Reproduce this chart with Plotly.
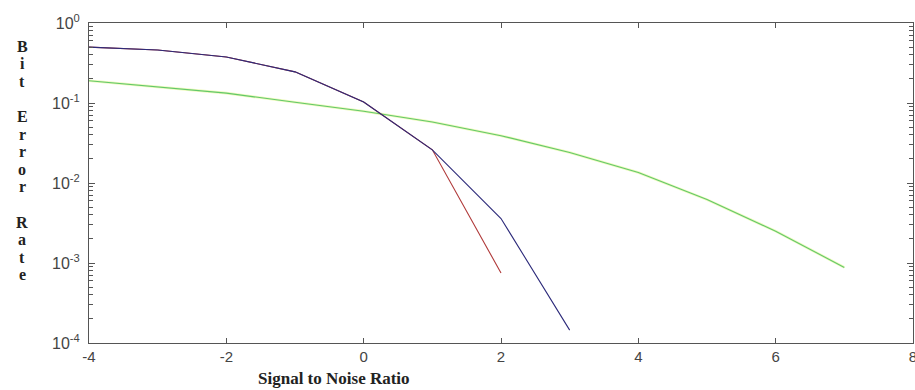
import numpy as np
import plotly.graph_objects as go

# Data
snr_blue = [-4, -3, -2, -1, 0, 1, 2, 3]
ber_blue = [0.50, 0.46, 0.376, 0.245, 0.103, 0.026, 0.0036, 0.000145]

snr_red = [-4, -3, -2, -1, 0, 1, 2]
ber_red = [0.50, 0.46, 0.376, 0.245, 0.103, 0.026, 0.00075]

snr_green = [-4, -3, -2, -1, 0, 1, 2, 3, 4, 5, 6, 7]
ber_green = [0.19, 0.16, 0.133, 0.102, 0.079, 0.058, 0.039, 0.024, 0.0135, 0.0062, 0.0025, 0.00088]

x_ticks = [-4, -2, 0, 2, 4, 6, 8]
x_tick_text = ["-4", "-2", "0", "2", "4", "6", "8"]
y_tick_vals = [1, 0.1, 0.01, 0.001, 0.0001]
y_tick_text = ["10<sup>0</sup>", "10<sup>-1</sup>", "10<sup>-2</sup>", "10<sup>-3</sup>", "10<sup>-4</sup>"]

y_title = "Bit Error Rate"
x_title = "Signal to Noise Ratio"

minor_vals = [m * 10.0 ** e for e in range(-4, 0) for m in range(2, 10)]

W, H = 915, 390
L, R, T, B = 89, 2, 23, 47

fig = go.Figure()
fig.add_trace(go.Scatter(x=snr_green, y=ber_green, mode="lines",
                         line=dict(color="rgba(225,245,140,0.6)", width=2.6), hoverinfo="skip"))
fig.add_trace(go.Scatter(x=snr_green, y=ber_green, mode="lines",
                         line=dict(color="#62c86a", width=1.1)))
fig.add_trace(go.Scatter(x=snr_red, y=ber_red, mode="lines",
                         line=dict(color="#b03a3a", width=1.1)))
fig.add_trace(go.Scatter(x=snr_blue, y=ber_blue, mode="lines",
                         line=dict(color="#2c2a7a", width=1.1)))

axis_col = "#555555"
fig.update_xaxes(range=[-4, 8], tickmode="array", tickvals=x_ticks, ticktext=x_tick_text,
                 ticks="inside", ticklen=5, ticklabeloverflow="allow", automargin=False,
                 tickcolor=axis_col, showline=True, linecolor=axis_col, linewidth=1,
                 mirror="ticks", showgrid=False, zeroline=False,
                 tickfont=dict(family="Arial, Liberation Sans", size=15, color="#444444"))
fig.update_yaxes(type="log", range=[-4, 0], tickmode="array", tickvals=y_tick_vals,
                 ticktext=y_tick_text, ticks="inside", ticklen=6, tickcolor=axis_col,
                 showline=True, linecolor=axis_col, linewidth=1, mirror="ticks",
                 showgrid=False, zeroline=False, ticklabelstandoff=5, automargin=False,
                 minor=dict(tickmode="array", tickvals=minor_vals, ticks="inside",
                            ticklen=4, tickcolor=axis_col, showgrid=False),
                 tickfont=dict(family="Arial, Liberation Sans", size=16, color="#444444"))

# Vertical, letter-by-letter y-axis title
first_center_px = 46
spacing_px = 17.6
plot_h = H - T - B
for i, ch in enumerate(y_title):
    if ch == " ":
        continue
    cy = first_center_px + i * spacing_px
    fig.add_annotation(text="<b>" + ch + "</b>", xref="paper", yref="paper",
                       x=(22 - L) / (W - L - R), y=(H - B - cy) / plot_h,
                       xanchor="center", yanchor="middle", showarrow=False,
                       font=dict(family="Liberation Serif, Times New Roman", size=16, color="#222222"))

fig.add_annotation(text="<b>" + x_title + "</b>", xref="paper", yref="paper",
                   x=0.297, y=-(378 - (H - B)) / plot_h, xanchor="center", yanchor="middle",
                   showarrow=False,
                   font=dict(family="Liberation Serif, Times New Roman", size=17, color="#222222"))

fig.update_layout(width=W, height=H, margin=dict(l=L, r=R, t=T, b=B, autoexpand=False),
                  plot_bgcolor="white", paper_bgcolor="white", showlegend=False)

fig.write_html("out.html")
